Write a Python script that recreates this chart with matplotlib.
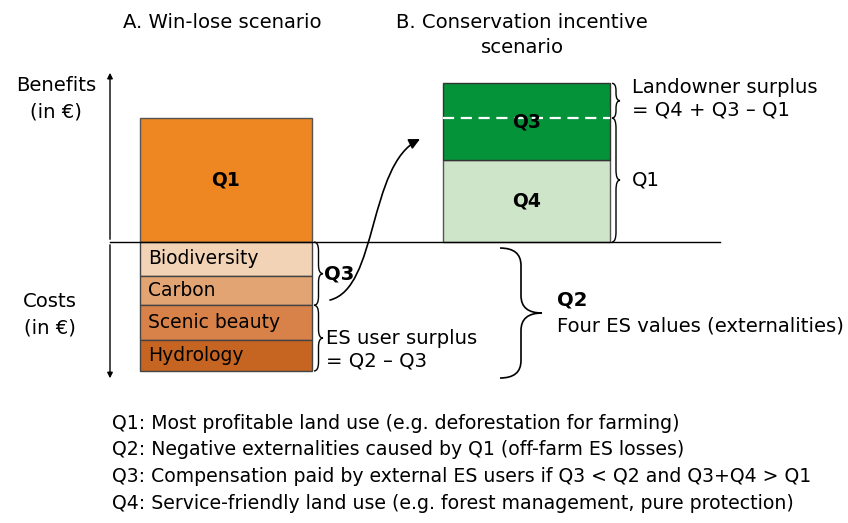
import matplotlib
matplotlib.use("Agg")
import matplotlib.pyplot as plt
from matplotlib.path import Path
from matplotlib.patches import PathPatch, FancyArrowPatch

# data (arbitrary value units, benefits > 0, costs < 0)
q1 = 5.0
cost_labels = ["Biodiversity", "Carbon", "Scenic beauty", "Hydrology"]
cost_values = [1.35, 1.2, 1.4, 1.25]
cost_colors = ["#F3D3B6", "#E3A474", "#D8824A", "#C66421"]
q4 = 3.3
q3 = 3.1

notes = [
    "Q1: Most profitable land use (e.g. deforestation for farming)",
    "Q2: Negative externalities caused by Q1 (off-farm ES losses)",
    "Q3: Compensation paid by external ES users if Q3 < Q2 and Q3+Q4 > Q1",
    "Q4: Service-friendly land use (e.g. forest management, pure protection)",
]

plt.rcParams['font.family'] = ['DejaVu Sans']
FS = 13.5   # labels inside bars
FT = 14.1   # other text

fig = plt.figure(figsize=(8.48, 5.23), dpi=100)
ax = fig.add_axes([0, 0, 1, 1])
ax.set_xlim(0, 848)
ax.set_ylim(-11.33, 9.76)
ax.axis('off')


def py(p):
    # pixel row -> value units (used for annotation placement)
    return (242 - p) / 24.8


def brace(x0, ytop, ybot, w, r, lw=1.0):
    xm = x0 + w / 2
    ymid = (ytop + ybot) / 2
    verts = [(x0, ytop), (xm, ytop), (xm, ytop - r),
             (xm, ymid + r), (xm, ymid), (x0 + w, ymid),
             (xm, ymid), (xm, ymid - r),
             (xm, ybot + r), (xm, ybot), (x0, ybot)]
    codes = [Path.MOVETO, Path.CURVE3, Path.CURVE3,
             Path.LINETO, Path.CURVE3, Path.CURVE3,
             Path.CURVE3, Path.CURVE3,
             Path.LINETO, Path.CURVE3, Path.CURVE3]
    ax.add_patch(PathPatch(Path(verts, codes), fill=False, lw=lw, color='black'))


# A. win-lose bar
xa, wa = 226, 172
ax.bar(xa, q1, width=wa, bottom=0, color="#EE8621", edgecolor="#555555", lw=1)
ax.text(xa, q1 / 2, "Q1", ha='center', va='center', fontsize=FS, fontweight='bold')
bottom = 0
for lab, v, c in zip(cost_labels, cost_values, cost_colors):
    ax.bar(xa, -v, width=wa, bottom=bottom, color=c, edgecolor="#444444", lw=1)
    ax.text(xa - wa / 2 + 8, bottom - v / 2, lab, ha='left', va='center', fontsize=FS)
    bottom -= v
total_cost = -bottom

# B. conservation bar
xb, wb = 526.5, 167
ax.bar(xb, q4, width=wb, bottom=0, color="#CFE5CA", edgecolor="#555555", lw=1)
ax.bar(xb, q3, width=wb, bottom=q4, color="#05933A", edgecolor="#333333", lw=1)
ax.text(xb, q4 / 2, "Q4", ha='center', va='center', fontsize=FS, fontweight='bold')
ax.text(xb, q4 + q3 / 2, "Q3", ha='center', va='center', fontsize=FS, fontweight='bold')
ax.plot([xb - wb / 2, xb + wb / 2], [q1, q1], color='white', lw=1.6, ls=(0, (5, 3)))

# axes lines
ax.plot([110, 720], [0, 0], color='black', lw=1)
ax.annotate("", xy=(110, py(70)), xytext=(110, 0),
            arrowprops=dict(arrowstyle='-|>', lw=1, color='black', mutation_scale=8))
ax.annotate("", xy=(110, py(381)), xytext=(110, 0),
            arrowprops=dict(arrowstyle='-|>', lw=1, color='black', mutation_scale=8))

# headings
ax.text(222, py(22), "A. Win-lose scenario", ha='center', va='center', fontsize=FT)
ax.text(522, py(35), "B. Conservation incentive\nscenario", ha='center', va='center',
        fontsize=FT, linespacing=1.4)
ax.text(56, py(99), "Benefits\n(in €)", ha='center', va='center', fontsize=FT, linespacing=1.5)
ax.text(50, py(315), "Costs\n(in €)", ha='center', va='center', fontsize=FT, linespacing=1.5)

# braces next to cost bar
q3_cost = cost_values[0] + cost_values[1]
brace(314, 0, -q3_cost, 9, 0.35)
ax.text(324, -q3_cost / 2, "Q3", ha='left', va='center', fontsize=FT, fontweight='bold')
brace(314, -q3_cost, -total_cost, 9, 0.35)
ax.text(326, py(350), "ES user surplus\n= Q2 \u2013 Q3",
        ha='left', va='center', fontsize=FT, linespacing=1.25)

# Q2 brace
brace(500, py(248), py(378), 42, 0.7, lw=1.2)
ax.text(557, py(300), "Q2", ha='left', va='center', fontsize=FT, fontweight='bold')
ax.text(557, py(326), "Four ES values (externalities)", ha='left', va='center', fontsize=FT)

# braces next to conservation bar
brace(612, q4 + q3, q1, 8, 0.3)
ax.text(632, py(99), "Landowner surplus\n= Q4 + Q3 \u2013 Q1", ha='left', va='center',
        fontsize=FT, linespacing=1.25)
brace(612, q1, 0, 8, 0.4)
ax.text(632, py(180), "Q1", ha='left', va='center', fontsize=FT)

# curved arrow from the Q3 cost brace to the Q3 payment
arrow_path = Path([(330, py(300)), (378, py(288)), (368, py(165)), (420, py(139))],
                  [Path.MOVETO, Path.CURVE4, Path.CURVE4, Path.CURVE4])
ax.add_patch(FancyArrowPatch(path=arrow_path, arrowstyle='-|>', mutation_scale=16,
                             lw=1.2, color='black'))

# footnotes
for i, t in enumerate(notes):
    ax.text(112, py(423 + 26.7 * i), t, ha='left', va='center', fontsize=13.6)

fig.savefig("out.png", dpi=100)
